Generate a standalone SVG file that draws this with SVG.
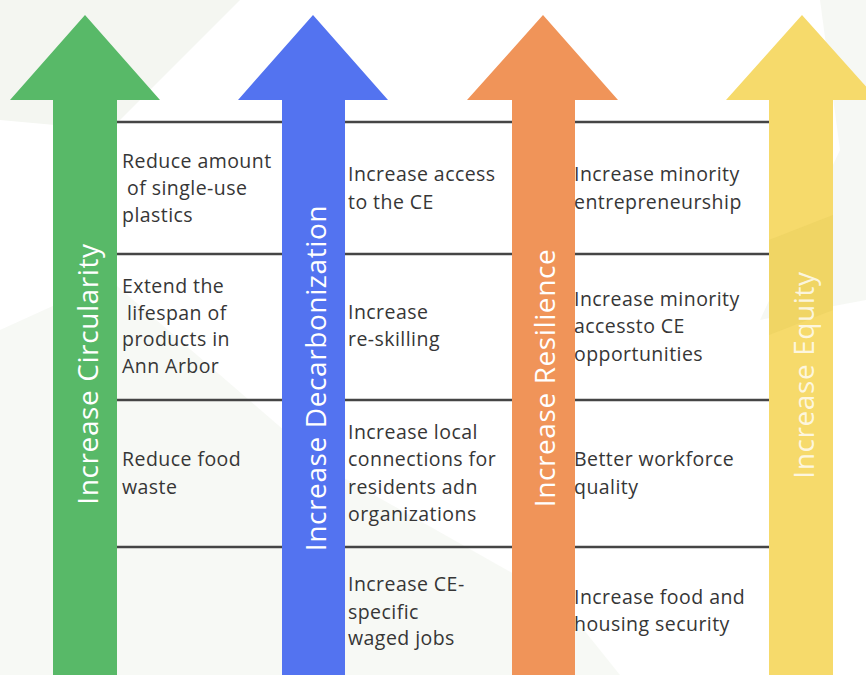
<svg xmlns="http://www.w3.org/2000/svg" width="866" height="675" viewBox="0 0 866 675">
  <style>
    .rule { stroke: #454545; stroke-width: 2.6; }
    .item { font-family: "Open Sans", "Noto Sans", sans-serif; font-size: 19.5px; font-weight: 500; fill: #363636; letter-spacing: 0.45px; }
    .title { font-family: "Open Sans", "Noto Sans", sans-serif; font-size: 28px; fill: #ffffff; text-anchor: middle; dominant-baseline: central; letter-spacing: 0.6px; }
  </style>

  <!-- backdrop with soft facets -->
  <rect width="866" height="675" fill="#ffffff"/>
  <g fill="#f4f6f1">
    <polygon points="0,0 240,0 110,130 0,120"/>
    <polygon points="0,330 110,280 330,470 560,600 620,675 0,675" opacity="0.7"/>
    <polygon points="820,0 866,0 866,300 760,320 840,150" opacity="0.8"/>
  </g>

  <!-- divider rules between the columns -->
  <g id="connectors">
    <line class="rule" x1="117" y1="122" x2="282" y2="122"/>
    <line class="rule" x1="345" y1="122" x2="512" y2="122"/>
    <line class="rule" x1="575" y1="122" x2="769" y2="122"/>
    <line class="rule" x1="117" y1="254" x2="282" y2="254"/>
    <line class="rule" x1="345" y1="254" x2="512" y2="254"/>
    <line class="rule" x1="575" y1="254" x2="769" y2="254"/>
    <line class="rule" x1="117" y1="400" x2="282" y2="400"/>
    <line class="rule" x1="345" y1="400" x2="512" y2="400"/>
    <line class="rule" x1="575" y1="400" x2="769" y2="400"/>
    <line class="rule" x1="117" y1="547" x2="282" y2="547"/>
    <line class="rule" x1="345" y1="547" x2="512" y2="547"/>
    <line class="rule" x1="575" y1="547" x2="769" y2="547"/>
  </g>

  <!-- arrows -->
  <g id="arrow-circularity">
    <polygon points="85,15 160,100 117,100 117,675 53,675 53,100 10,100" fill="#58b968"/>
    <text class="title" transform="translate(87,374) rotate(-90)">Increase Circularity</text>
  </g>
  <g id="arrow-decarbonization">
    <polygon points="313,15 388,100 345,100 345,675 282,675 282,100 238,100" fill="#5373f0"/>
    <text class="title" transform="translate(315,378) rotate(-90)">Increase Decarbonization</text>
  </g>
  <g id="arrow-resilience">
    <polygon points="543,15 618,100 575,100 575,675 512,675 512,100 467,100" fill="#f09459"/>
    <text class="title" transform="translate(544,378) rotate(-90)">Increase Resilience</text>
  </g>
  <g id="arrow-equity">
    <polygon points="802,15 878,100 833,100 833,675 769,675 769,100 726,100" fill="#f6da6b"/>
    <polygon points="769,240 833,215 833,310 769,335" fill="#e9cf5e" opacity="0.5"/>
    <text class="title" transform="translate(803,375) rotate(-90)" fill-opacity="0.8">Increase Equity</text>
  </g>

  <!-- circularity items -->
  <g id="item-plastics">
    <text class="item" x="122" y="168">Reduce amount</text>
    <text class="item" x="127" y="195">of single-use</text>
    <text class="item" x="122" y="222">plastics</text>
  </g>
  <g id="item-lifespan">
    <text class="item" x="122" y="293">Extend the</text>
    <text class="item" x="127" y="320">lifespan of</text>
    <text class="item" x="122" y="346">products in</text>
    <text class="item" x="122" y="373">Ann Arbor</text>
  </g>
  <g id="item-food-waste">
    <text class="item" x="122" y="466">Reduce food</text>
    <text class="item" x="122" y="494">waste</text>
  </g>

  <!-- decarbonization items -->
  <g id="item-access">
    <text class="item" x="348" y="181">Increase access</text>
    <text class="item" x="348" y="209">to the CE</text>
  </g>
  <g id="item-reskilling">
    <text class="item" x="348" y="319">Increase</text>
    <text class="item" x="348" y="346">re-skilling</text>
  </g>
  <g id="item-connections">
    <text class="item" x="348" y="439">Increase local</text>
    <text class="item" x="348" y="466">connections for</text>
    <text class="item" x="348" y="494">residents adn</text>
    <text class="item" x="348" y="521">organizations</text>
  </g>
  <g id="item-jobs">
    <text class="item" x="348" y="591">Increase CE-</text>
    <text class="item" x="348" y="619">specific</text>
    <text class="item" x="348" y="645">waged jobs</text>
  </g>

  <!-- resilience items -->
  <g id="item-entrepreneurship">
    <text class="item" x="574" y="181">Increase minority</text>
    <text class="item" x="574" y="209">entrepreneurship</text>
  </g>
  <g id="item-opportunities">
    <text class="item" x="574" y="306">Increase minority</text>
    <text class="item" x="574" y="333">accessto CE</text>
    <text class="item" x="574" y="361">opportunities</text>
  </g>
  <g id="item-workforce">
    <text class="item" x="574" y="466">Better workforce</text>
    <text class="item" x="574" y="494">quality</text>
  </g>
  <g id="item-security">
    <text class="item" x="574" y="604">Increase food and</text>
    <text class="item" x="574" y="631">housing security</text>
  </g>
</svg>
